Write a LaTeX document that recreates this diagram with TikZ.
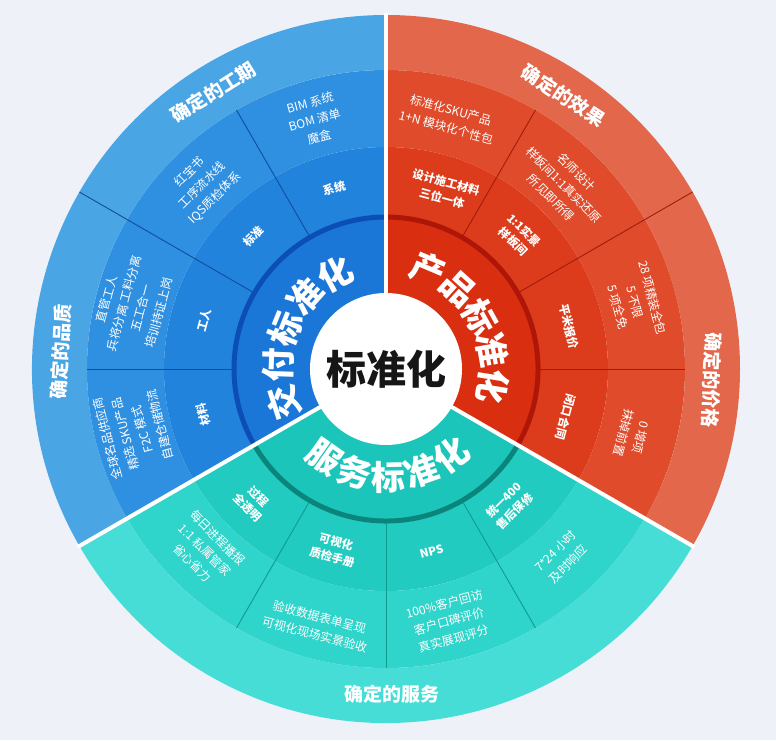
\documentclass[tikz,border=0pt]{standalone}
\usepackage{fontspec}
\setmainfont{Noto Sans CJK SC}
\definecolor{bg}{HTML}{EEF2F8}
\definecolor{ink}{HTML}{161616}
\definecolor{bO}{HTML}{4AA5E5}
\definecolor{bT}{HTML}{2F8FE0}
\definecolor{bS}{HTML}{2283DD}
\definecolor{bI}{HTML}{1B77D7}
\definecolor{bD}{HTML}{0B4FB6}
\definecolor{bL}{HTML}{0E4E9E}
\definecolor{rO}{HTML}{E2674B}
\definecolor{rT}{HTML}{E04B2B}
\definecolor{rS}{HTML}{DD3C1C}
\definecolor{rI}{HTML}{DA2E10}
\definecolor{rD}{HTML}{AE1708}
\definecolor{rL}{HTML}{A11C0C}
\definecolor{tO}{HTML}{47DDD7}
\definecolor{tT}{HTML}{2FD4CA}
\definecolor{tS}{HTML}{22CBBF}
\definecolor{tI}{HTML}{1CC5B9}
\definecolor{tD}{HTML}{0B857C}
\definecolor{tL}{HTML}{0F9B90}
\newcommand{\annsec}[5]{\fill[#5] (#1:#3pt) arc[start angle=#1, end angle=#2, radius=#3pt] -- (#2:#4pt) arc[start angle=#2, end angle=#1, radius=#4pt] -- cycle;}
\tikzset{
  ctr/.style={font=\fontsize{40}{44}\selectfont\bfseries, text=ink, inner sep=0pt},
  mainch/.style={font=\fontsize{34}{36}\selectfont\bfseries, text=white, inner sep=0pt},
  outerlbl/.style={font=\fontsize{19}{22}\selectfont\bfseries, text=white, inner sep=0pt},
  inlbl/.style={font=\fontsize{11.5}{16}\selectfont\bfseries, text=white, align=center, inner sep=0pt},
  body/.style={font=\fontsize{12}{18}\selectfont, text=white, align=center, inner sep=0pt},
  divline/.style={line width=0.9pt},
  gap/.style={white, line width=4pt},
}
\begin{document}
\begin{tikzpicture}[x=1pt,y=1pt]
\useasboundingbox (0,0) rectangle (776,740);
\fill[bg] (0,0) rectangle (776,740);
\begin{scope}[shift={(386,371)}]
% blue sector
\annsec{90}{210}{70}{154}{bI}
\annsec{90}{210}{154}{222}{bS}
\annsec{90}{210}{222}{299}{bT}
\annsec{90}{210}{299}{354}{bO}
% red sector
\annsec{-30}{90}{70}{154}{rI}
\annsec{-30}{90}{154}{222}{rS}
\annsec{-30}{90}{222}{299}{rT}
\annsec{-30}{90}{299}{354}{rO}
% teal sector
\annsec{210}{330}{70}{154}{tI}
\annsec{210}{330}{154}{222}{tS}
\annsec{210}{330}{222}{299}{tT}
\annsec{210}{330}{299}{354}{tO}
% dark rings
\draw[bD, line width=5pt] (90:152pt) arc[start angle=90, end angle=210, radius=152pt];
\draw[rD, line width=5pt] (-30:152pt) arc[start angle=-30, end angle=90, radius=152pt];
\draw[tD, line width=5pt] (210:152pt) arc[start angle=210, end angle=330, radius=152pt];
% dividers
\draw[divline, bL] (120:154pt) -- (120:299pt);
\draw[divline, bL] (150:154pt) -- (150:354pt);
\draw[divline, bL] (180:154pt) -- (180:299pt);
\draw[divline, rL] (60:154pt) -- (60:299pt);
\draw[divline, rL] (30:154pt) -- (30:354pt);
\draw[divline, rL] (0:154pt) -- (0:299pt);
\draw[divline, tL] (240:154pt) -- (240:299pt);
\draw[divline, tL] (270:154pt) -- (270:299pt);
\draw[divline, tL] (300:154pt) -- (300:299pt);
% white gaps between sectors
\draw[gap] (0,0) -- (90:356pt);
\draw[gap] (0,0) -- (210:356pt);
\draw[gap] (0,0) -- (330:356pt);
% center
\fill[white] (0,0) circle[radius=76pt];
\node (center) [ctr] at (0,0) {标准化};
% main labels
\foreach \ch/\a [count=\i] in {交/198,付/178,标/158,准/138,化/118}
  \node (bm\i) [mainch, rotate=\a-90] at (\a:108pt) {\ch};
\foreach \ch/\a [count=\i] in {产/67,品/48,标/29,准/10,化/-9}
  \node (rm\i) [mainch, rotate=\a-90] at (\a:108pt) {\ch};
\foreach \ch/\a [count=\i] in {服/235,务/253,标/271,准/289,化/307}
  \node (tm\i) [mainch, rotate=\a+90] at (\a:108pt) {\ch};
% outer labels
\node (ob1) [outerlbl, rotate=32] at (122:326pt) {确定的工期};
\node (ob2) [outerlbl, rotate=87] at (177:326pt) {确定的品质};
\node (or1) [outerlbl, rotate=-33] at (57:326pt) {确定的效果};
\node (or2) [outerlbl, rotate=-92] at (-2:326pt) {确定的价格};
\node (ot1) [outerlbl] at (271:325pt) {确定的服务};
% inner band labels
\node (bs1) [inlbl, rotate=15] at (106:188pt) {系统};
\node (bs2) [inlbl, rotate=45] at (135:188pt) {标准};
\node (bs3) [inlbl, rotate=75] at (165:188pt) {工人};
\node (bs4) [inlbl, rotate=105] at (194:188pt) {材料};
\node (rs1) [inlbl, rotate=-15] at (72:188pt) {设计施工材料\\三位一体};
\node (rs2) [inlbl, rotate=-45] at (45:188pt) {1:1实景\\样板间};
\node (rs3) [inlbl, rotate=-76] at (13:188pt) {平米报价};
\node (rs4) [inlbl, rotate=-105] at (-15:186pt) {闭口合同};
\node (ts1) [inlbl, rotate=-45] at (225:188pt) {过程\\全透明};
\node (ts2) [inlbl, rotate=-15] at (254:188pt) {可视化\\质检手册};
\node (ts3) [inlbl, rotate=15] at (284:188pt) {NPS};
\node (ts4) [inlbl, rotate=45] at (312:184pt) {统一400\\售后保修};
% body texts
\node (bb1) [body, rotate=15] at (106:259pt) {BIM 系统\\BOM 清单\\魔盒};
\node (bb2) [body, rotate=45] at (135:260pt) {红宝书\\工序流水线\\IQS质检体系};
\node (bb3) [body, rotate=75] at (166:261pt) {直管工人\\兵将分离 工料分离\\五工合一\\培训持证上岗};
\node (bb4) [body, rotate=105] at (194:260pt) {全球名品供应商\\精选 SKU产品\\F2C 模式\\自建仓储物流};
\node (rb1) [body, rotate=-15] at (76:258pt) {标准化SKU产品\\1+N 模块化个性包};
\node (rb2) [body, rotate=-45] at (46:256pt) {名师设计\\样板间1:1真实还原\\所见即所得};
\node (rb3) [body, rotate=-75] at (15:258pt) {28 项精装全包\\5 不限\\5 项全免};
\node (rb4) [body, rotate=-105] at (-15:255pt) {0 增项\\抹掉前置};
\node (tb1) [body, rotate=-45] at (225:256pt) {每日进程播报\\1:1 私属管家\\省心省力};
\node (tb2) [body, rotate=-15] at (255:266pt) {验收数据表单呈现\\可视化现场实景验收};
\node (tb3) [body, rotate=15] at (284:260pt) {100\%客户回访\\客户口碑评价\\真实展现评分};
\node (tb4) [body, rotate=45] at (313:258pt) {7*24 小时\\及时响应};
\end{scope}
\end{tikzpicture}
\end{document}
